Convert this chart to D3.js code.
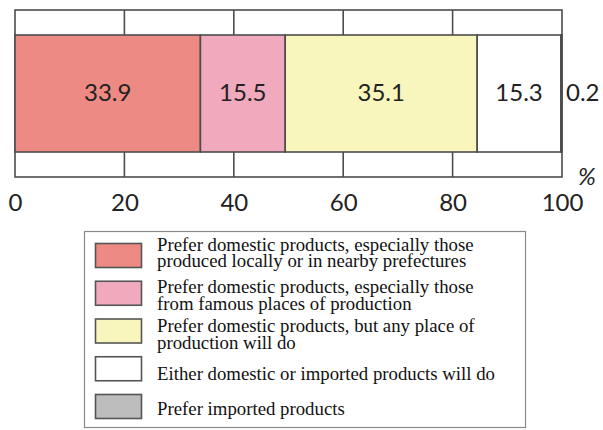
<!DOCTYPE html>
<html>
<head>
<meta charset="utf-8">
<script src="https://d3js.org/d3.v7.min.js"></script>
<style>
    body { margin: 0; background: #fff; }
    .num { font-family: 'Lato', sans-serif; font-size: 24px; fill: #222; }
    .leg { font-family: 'Liberation Serif', 'Times New Roman', serif; font-size: 18.8px; fill: #111; }
</style>
</head>
<body>
<script>
"use strict";
// data
const categories = [
    "Prefer domestic products, especially those produced locally or in nearby prefectures",
    "Prefer domestic products, especially those from famous places of production",
    "Prefer domestic products, but any place of production will do",
    "Either domestic or imported products will do",
    "Prefer imported products"
];
const legendLines = [
    ["Prefer domestic products, especially those", "produced locally or in nearby prefectures"],
    ["Prefer domestic products, especially those", "from famous places of production"],
    ["Prefer domestic products, but any place of", "production will do"],
    ["Either domestic or imported products will do"],
    ["Prefer imported products"]
];
const values = [33.9, 15.5, 35.1, 15.3, 0.2];
const tickValues = [0, 20, 40, 60, 80, 100];
const colors = ["#ee8a84", "#f1a9be", "#f8f6bc", "#ffffff", "#bdbdbd"];

const W = 603, H = 430;
const line = "#4d4d4d";

const svg = d3.select("body").append("svg")
    .attr("width", W)
    .attr("height", H);

const x = d3.scaleLinear().domain([0, 100]).range([15, 562]);
const frameTop = 10, barTop = 35, barBottom = 152, frameBottom = 177;

// stacked segments
let acc = 0;
const segs = values.map(function (v, i) {
    const s = { i: i, x0: acc, x1: acc + v, v: v };
    acc += v;
    return s;
});

// outer frame
svg.append("rect")
    .attr("x", x(0)).attr("y", frameTop)
    .attr("width", x(100) - x(0)).attr("height", frameBottom - frameTop)
    .attr("fill", "#fff").attr("stroke", line).attr("stroke-width", 1.6);

// grid ticks in top and bottom strips
const inner = tickValues.slice(1, -1);
svg.append("g").selectAll("line.top").data(inner).enter().append("line")
    .attr("x1", d => x(d)).attr("x2", d => x(d))
    .attr("y1", frameTop).attr("y2", barTop)
    .attr("stroke", line).attr("stroke-width", 1.6);
svg.append("g").selectAll("line.bot").data(inner).enter().append("line")
    .attr("x1", d => x(d)).attr("x2", d => x(d))
    .attr("y1", barBottom).attr("y2", frameBottom)
    .attr("stroke", line).attr("stroke-width", 1.6);

// bar segments
svg.append("g").selectAll("rect").data(segs).enter().append("rect")
    .attr("x", d => x(d.x0))
    .attr("y", barTop)
    .attr("width", d => x(d.x1) - x(d.x0))
    .attr("height", barBottom - barTop)
    .attr("fill", d => colors[d.i])
    .attr("stroke", line)
    .attr("stroke-width", 1.6);

// value labels
svg.append("g").selectAll("text").data(segs.slice(0, 4)).enter().append("text")
    .attr("class", "num")
    .attr("x", d => (x(d.x0) + x(d.x1)) / 2)
    .attr("y", 101)
    .attr("text-anchor", "middle")
    .text(d => d.v.toFixed(1));
svg.append("text")
    .attr("class", "num")
    .attr("x", x(100) + 4)
    .attr("y", 101)
    .text(values[4].toFixed(1));

// axis labels
const axis = svg.append("g")
    .attr("transform", "translate(0,190)")
    .call(d3.axisBottom(x).tickValues(tickValues).tickSize(0).tickPadding(0));
axis.select(".domain").remove();
axis.selectAll("text")
    .attr("class", "num")
    .attr("font-family", null).attr("font-size", null)
    .attr("fill", null)
    .attr("dy", "0.88em");

svg.append("text")
    .attr("class", "num")
    .attr("x", 578).attr("y", 185)
    .style("font-style", "italic")
    .text("%");

// legend
svg.append("rect")
    .attr("x", 84.5).attr("y", 231.5)
    .attr("width", 441).attr("height", 196)
    .attr("fill", "#fff").attr("stroke", "#8a8a8a").attr("stroke-width", 1.2);

const ly = d3.scaleLinear().domain([0, 4]).range([243, 394]);
const textY = [250.5, 293, 332, 380, 415];
const item = svg.append("g").selectAll("g").data(categories).enter().append("g");
item.append("rect")
    .attr("x", 95.5)
    .attr("y", (d, i) => ly(i) + 0.5)
    .attr("width", 46).attr("height", 24)
    .attr("fill", (d, i) => colors[i])
    .attr("stroke", "#555").attr("stroke-width", 1.6);
item.append("text")
    .attr("class", "leg")
    .attr("x", 157)
    .attr("y", (d, i) => textY[i])
    .each(function (d, i) {
        d3.select(this).selectAll("tspan").data(legendLines[i]).enter().append("tspan")
            .attr("x", 157)
            .attr("dy", (t, j) => j === 0 ? 0 : 16.5)
            .text(t => t);
    });
</script>
</body>
</html>
